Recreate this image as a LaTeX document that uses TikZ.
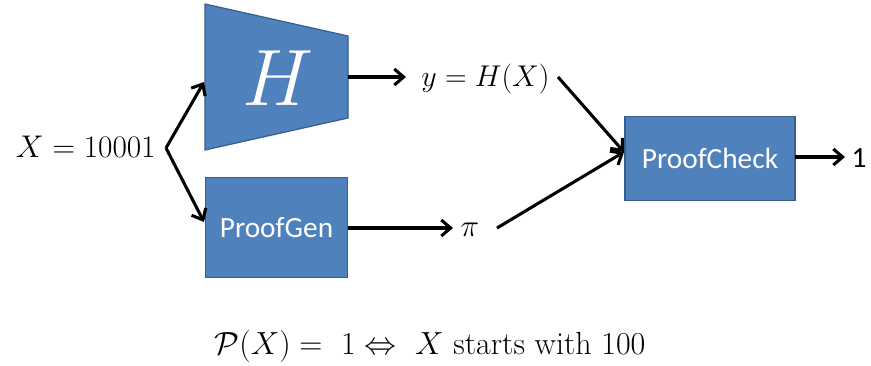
\RequirePackage{fix-cm}
\documentclass[tikz,border=0pt]{standalone}
\usepackage{fontspec}
\usepackage{amsmath}
\newfontfamily\calibri{Carlito}
\usetikzlibrary{arrows.meta}
\definecolor{boxblue}{HTML}{4F81BD}
\definecolor{boxedge}{HTML}{385D8A}
\begin{document}
\begin{tikzpicture}[x=0.75pt,y=-0.75pt,
  blockbox/.style={draw=boxedge,fill=boxblue,line width=0.9pt,text=white,
    font=\calibri\fontsize{22}{26}\selectfont,inner sep=0pt},
  conn/.style={line width=2.3pt,-{Straight Barb[length=7pt,width=12pt]}},
  mathlbl/.style={font=\fontsize{23.5}{28}\selectfont,inner sep=0pt},
  biglbl/.style={font=\fontsize{24}{28}\selectfont,inner sep=0pt}]
\useasboundingbox (0,0) rectangle (871,365);
\fill[white] (0,0) rectangle (871,365);
% hash function trapezoid
\draw[draw=boxedge,fill=boxblue,line width=0.9pt]
  (205,4) -- (348,36) -- (348,118) -- (205,150) -- cycle;
\node[text=white,font=\fontsize{60}{64}\selectfont,inner sep=0pt] (H) at (278,78) {$H$};
% boxes
\node[blockbox,minimum width=107pt,minimum height=75.5pt] (pg) at (276.5,227.5) {ProofGen};
\node[blockbox,minimum width=127.5pt,minimum height=62.5pt] (pc) at (710,158.5) {ProofCheck};
% labels
\node[mathlbl,anchor=east] (X) at (156,147) {$X = 10001$};
\node[mathlbl,anchor=west,font=\fontsize{22.5}{27}\selectfont] (y) at (421,79) {$y = H(X)$};
\node[mathlbl] (pi) at (470,230) {$\pi$};
\node[font=\calibri\fontsize{22}{26}\selectfont,inner sep=0pt] (one) at (859,158) {1};
\node[biglbl] (prop) at (430,346) {$\mathcal{P}(X) =\ 1 \Leftrightarrow\ X$ starts with $100$};
% connector points
\coordinate (split) at (166,148);
\coordinate (Hin) at (204,82);
\coordinate (pgin) at (204,222);
\coordinate (Hout) at (348,77);
\coordinate (yin) at (406,77);
\coordinate (pgout) at (348,228);
\coordinate (piin) at (453,228);
\coordinate (yout) at (558,77);
\coordinate (piout) at (497,228);
\coordinate (pcin) at (624,152);
\coordinate (pcout) at (795,157);
\coordinate (onein) at (845,157);
% connectors
\draw[conn] (split) -- (Hin);
\draw[conn] (split) -- (pgin);
\draw[conn] (Hout) -- (yin);
\draw[conn] (pgout) -- (piin);
\draw[conn] (yout) -- (pcin);
\draw[conn] (piout) -- (pcin);
\draw[conn] (pcout) -- (onein);
\end{tikzpicture}
\end{document}
